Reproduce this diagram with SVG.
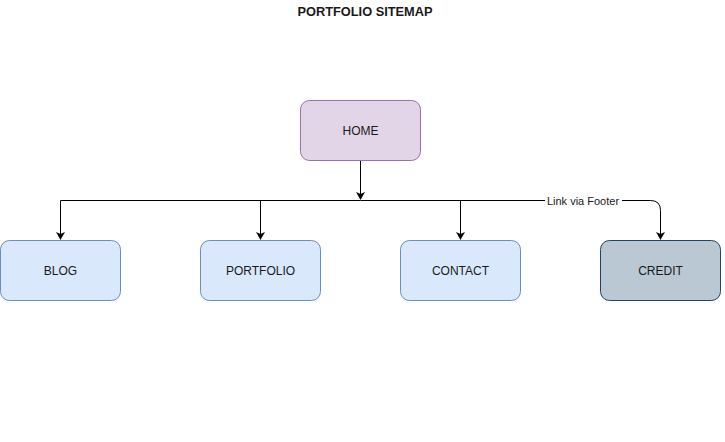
<svg xmlns="http://www.w3.org/2000/svg" width="725" height="442" viewBox="0 0 725 442">
<defs>
<marker id="arr" markerWidth="8" markerHeight="10" refX="7" refY="4.5" orient="auto" markerUnits="userSpaceOnUse">
<path d="M0,0 L8,4.5 L0,9 L2,4.5 Z" fill="#000"/>
</marker>
</defs>
<style>
text{font-family:"Liberation Sans",Arial,sans-serif;font-size:12px;fill:#1a1a1a;text-anchor:middle;dominant-baseline:central}
.blue{fill:#dae8fc;stroke:#6c8ebf}
.edge{fill:none;stroke:#000;stroke-width:1}
</style>
<rect width="725" height="442" fill="#fff"/>
<text x="365" y="11" style="font-weight:bold;font-size:12.8px">PORTFOLIO SITEMAP</text>
<g id="connectors">
<path class="edge" d="M360.5,160.5 V199" marker-end="url(#arr)"/>
<path class="edge" d="M360.5,200.5 H60.5 V239" marker-end="url(#arr)"/>
<path class="edge" d="M260.5,200.5 V239" marker-end="url(#arr)"/>
<path class="edge" d="M360.5,200.5 H460.5 V239" marker-end="url(#arr)"/>
<path class="edge" d="M460.5,200.5 H650.5 Q660.5,200.5 660.5,210.5 V239" marker-end="url(#arr)"/>
<rect x="545" y="194" width="77" height="13" fill="#fff"/>
<text x="583" y="201" style="font-size:11px">Link via Footer</text>
</g>
<g id="home">
<rect x="300.5" y="100.5" width="120" height="60" rx="9" fill="#e1d5e7" stroke="#9673a6"/>
<text x="360.5" y="130.5">HOME</text>
</g>
<g id="blog">
<rect class="blue" x="0.5" y="240.5" width="120" height="60" rx="9"/>
<text x="60.5" y="270.5">BLOG</text>
</g>
<g id="portfolio">
<rect class="blue" x="200.5" y="240.5" width="120" height="60" rx="9"/>
<text x="260.5" y="270.5">PORTFOLIO</text>
</g>
<g id="contact">
<rect class="blue" x="400.5" y="240.5" width="120" height="60" rx="9"/>
<text x="460.5" y="270.5">CONTACT</text>
</g>
<g id="credit">
<rect x="600.5" y="240.5" width="120" height="60" rx="9" fill="#bac8d3" stroke="#23445d"/>
<text x="660.5" y="270.5">CREDIT</text>
</g>
</svg>
